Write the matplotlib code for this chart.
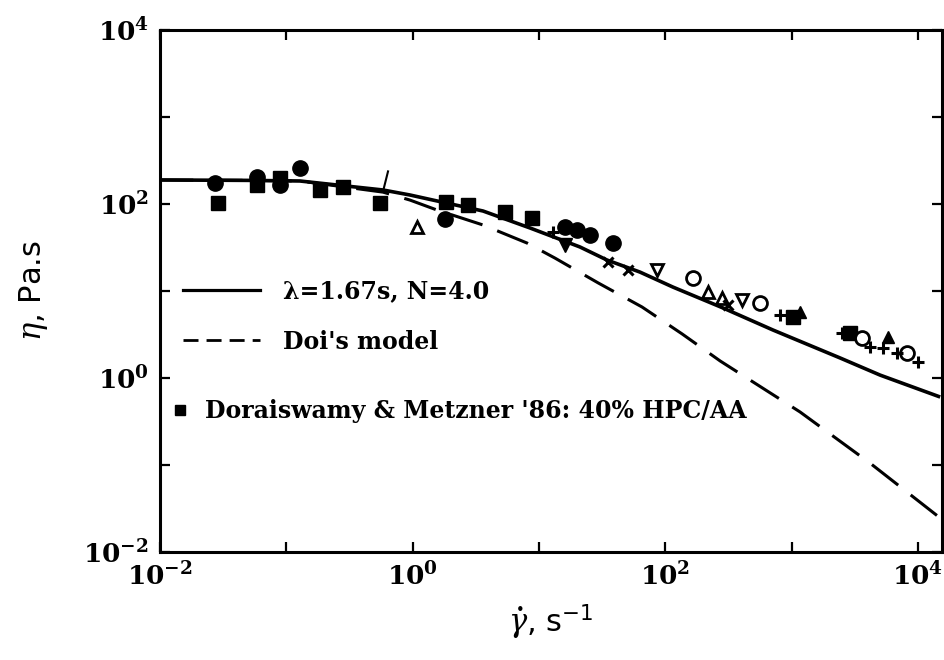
import matplotlib
matplotlib.use("Agg")
import matplotlib.pyplot as plt
from matplotlib.lines import Line2D
from matplotlib.path import Path

plt.rcParams["mathtext.fontset"] = "custom"
plt.rcParams["mathtext.rm"] = "DejaVu Serif:bold"
plt.rcParams["mathtext.it"] = "DejaVu Serif:italic"
plt.rcParams["mathtext.sf"] = "DejaVu Sans"

# fitted curve, lambda = 1.67 s, N = 4.0
fit_rate = [0.01, 0.05, 0.128, 0.583, 0.953, 1.45, 3.61, 8.51, 21.1, 34.6, 63.1,
            115, 287, 713, 2421, 5023, 15000]
fit_visc = [189, 187, 184, 145, 127, 111, 83.1, 53.0, 32.1, 22.7, 16.5,
            11.1, 6.38, 3.56, 1.70, 1.08, 0.605]

# Doi's model
doi_rate = [0.01, 0.05, 0.128, 0.583, 0.953, 1.56, 3.61, 8.05, 13.4, 29.4, 65.5,
            136, 272, 1167, 4182, 15000]
doi_visc = [189, 187, 184, 137, 111, 85.3, 57.4, 35.6, 23.9, 12.4, 6.55,
            3.21, 1.57, 0.407, 0.105, 0.0246]

# Doraiswamy & Metzner '86, 40% HPC/AA
sq_rate = [0.0288, 0.0586, 0.0891, 0.185, 0.281, 0.552, 1.84, 2.75, 5.39, 8.82, 1028, 2905]
sq_visc = [102.6, 165, 199, 145, 157, 103, 105, 97.5, 80.9, 69.0, 5.02, 3.29]

circ_rate = [0.0272, 0.0586, 0.089, 0.128, 1.81, 16.1, 20.0, 25.4, 38.7]
circ_visc = [174, 204, 165, 259, 67.3, 54.5, 50.2, 44.0, 35.6]

tri_rate = [1.08, 218, 282]
tri_visc = [54.5, 9.75, 8.32]

ftri_rate = [1167, 5803]
ftri_visc = [5.74, 2.96]

dtri_rate = [86, 406]
dtri_visc = [17.4, 7.88]

fdtri_rate = [16.1]
fdtri_visc = [33.8]

ocirc_rate = [166, 564, 3614, 8204]
ocirc_visc = [14.1, 7.28, 2.88, 1.94]

plus_rate = [12.9, 811, 2512, 4188, 5309, 6843, 10046]
plus_visc = [47.6, 5.3, 3.29, 2.27, 2.21, 1.94, 1.53]

cross_rate = [35.2, 50.7, 314]
cross_visc = [21.5, 17.4, 6.9]

slash_rate = [0.604]
slash_visc = [184]

fig = plt.figure(figsize=(9.45, 6.6), dpi=100)
ax = fig.add_axes([0.1693, 0.1636, 0.8275, 0.7909])

ax.plot(fit_rate, fit_visc, color="black", lw=2.6, solid_capstyle="butt")
ax.plot(doi_rate, doi_visc, color="black", lw=2.2, ls=(0, (10.9, 5.2)))

k = dict(color="black", ls="none")
ax.plot(sq_rate, sq_visc, marker="s", ms=10, **k)
ax.plot(circ_rate, circ_visc, marker="o", ms=11, **k)
ax.plot(tri_rate, tri_visc, marker="^", ms=9, mfc="white", mew=2, **k)
ax.plot(ftri_rate, ftri_visc, marker="^", ms=9, **k)
ax.plot(dtri_rate, dtri_visc, marker="v", ms=9, mfc="white", mew=2, **k)
ax.plot(fdtri_rate, fdtri_visc, marker="v", ms=10, **k)
ax.plot(ocirc_rate, ocirc_visc, marker="o", ms=10, mfc="white", mew=2, **k)
ax.plot(plus_rate, plus_visc, marker="+", ms=9, mew=2.2, **k)
ax.plot(cross_rate, cross_visc, marker="x", ms=7, mew=2.2, **k)
slash = Path([(-0.25, -1), (0.25, 1)], [Path.MOVETO, Path.LINETO])
ax.plot(slash_rate, slash_visc, marker=slash, ms=16, mew=1.5, **k)

ax.set_xscale("log")
ax.set_yscale("log")
ax.set_xlim(1e-2, 15500)
ax.set_ylim(1e-2, 1e4)

dec_x = [1e-2, 1e-1, 1e0, 1e1, 1e2, 1e3, 1e4]
dec_y = [1e-2, 1e-1, 1e0, 1e1, 1e2, 1e3, 1e4]
xlabels = [r"$10^{-2}$", "", r"$10^{0}$", "", r"$10^{2}$", "", r"$10^{4}$"]
ylabels = [r"$10^{-2}$", "", r"$10^{0}$", "", r"$10^{2}$", "", r"$10^{4}$"]
ax.set_xticks(dec_x)
ax.set_xticklabels(xlabels)
ax.set_yticks(dec_y)
ax.set_yticklabels(ylabels)
ax.minorticks_off()
ax.tick_params(which="major", direction="in", length=7, width=1.6,
               top=True, right=True, labelsize=19, pad=8)
for s in ax.spines.values():
    s.set_linewidth(2.2)

ax.set_xlabel(r"$\dot{\gamma}$, s$^{\mathsf{-1}}$", fontsize=22, family="DejaVu Sans",
              labelpad=8)
ax.set_ylabel(r"$\eta$, Pa.s", fontsize=22, family="DejaVu Sans", labelpad=24)

lfont = {"family": "DejaVu Serif", "weight": "bold", "size": 17}
h1 = [Line2D([], [], color="black", lw=2.3),
      Line2D([], [], color="black", lw=2.0, ls=(0, (5.4, 2.9)))]
leg1 = ax.legend(h1, [r"λ=1.67s, N=4.0", "Doi's model"], loc="center left",
                 bbox_to_anchor=(0.0294, 0.451), frameon=False, prop=lfont,
                 handlelength=3.25, handletextpad=1.0, labelspacing=1.1,
                 borderpad=0, borderaxespad=0)
ax.add_artist(leg1)
h2 = [Line2D([], [], color="black", ls="none", marker="s", ms=7)]
ax.legend(h2, ["Doraiswamy & Metzner '86: 40% HPC/AA"], loc="center left",
          bbox_to_anchor=(0.0166, 0.270), frameon=False, prop=lfont,
          handlelength=0.6, handletextpad=0.76, borderpad=0, borderaxespad=0)

fig.savefig("out.png", dpi=100)
